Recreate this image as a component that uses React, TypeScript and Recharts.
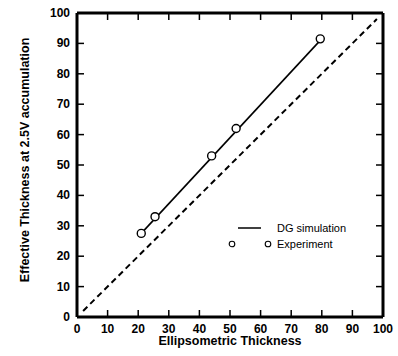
import React from "react";
import { ScatterChart, Scatter, XAxis, YAxis } from "recharts";

const expX = [21, 25.5, 44, 52, 79.5];
const expY = [27.5, 33, 53, 62, 91.5];
const simX = [21, 79.5];
const simY = [27.5, 91];
const refX = [2, 98];
const refY = [2, 98];
const ticks = [0, 10, 20, 30, 40, 50, 60, 70, 80, 90, 100];

const simLabel = "DG simulation";
const expLabel = "Experiment";

const zip = (xs: number[], ys: number[]) => xs.map((x, i) => ({ x, y: ys[i] }));
const expData = zip(expX, expY);
const simData = zip(simX, simY);
const refData = zip(refX, refY);

const FONT = "'Liberation Sans', Arial, sans-serif";
const TICK = 7;

function BottomTick({ x, y, payload }: any) {
    return (
        <g>
            <line x1={x} y1={y} x2={x} y2={y - TICK} stroke="#000" strokeWidth={1.5} />
            <text x={x} y={y + 15.5} textAnchor="middle" fontFamily={FONT} fontWeight="bold" fontSize={12} fill="#000">
                {payload.value}
            </text>
        </g>
    );
}

function LeftTick({ x, y, payload }: any) {
    return (
        <g>
            <line x1={x} y1={y} x2={x + TICK} y2={y} stroke="#000" strokeWidth={1.5} />
            <text x={x - 7} y={y + 4} textAnchor="end" fontFamily={FONT} fontWeight="bold" fontSize={12} fill="#000">
                {payload.value}
            </text>
        </g>
    );
}

function TopTick({ x, y }: any) {
    return <line x1={x} y1={y} x2={x} y2={y + TICK} stroke="#000" strokeWidth={1.5} />;
}

function RightTick({ x, y }: any) {
    return <line x1={x} y1={y} x2={x - TICK} y2={y} stroke="#000" strokeWidth={1.5} />;
}

function NoDot() {
    return <g />;
}

function ExpDot({ cx, cy }: any) {
    return <circle cx={cx} cy={cy} r={4} fill="#fff" stroke="#000" strokeWidth={1.4} />;
}

function ChartLegend() {
    return (
        <svg width={130} height={34} style={{ display: "block" }}>
            <line x1={10} y1={8} x2={33} y2={8} stroke="#000" strokeWidth={1.5} />
            <text x={49} y={12} fontFamily={FONT} fontSize={11} fill="#000">
                {simLabel}
            </text>
            <circle cx={4} cy={24} r={2.8} fill="none" stroke="#000" strokeWidth={1.1} />
            <circle cx={40} cy={24} r={2.8} fill="none" stroke="#000" strokeWidth={1.1} />
            <text x={49} y={28} fontFamily={FONT} fontSize={11} fill="#000">
                {expLabel}
            </text>
        </svg>
    );
}

export default function App() {
    return (
        <div style={{ position: "absolute", left: 0, top: 0, width: 398, height: 356, background: "#fff" }}>
            <ScatterChart width={398} height={356} margin={{ top: 12, right: 14, bottom: 0, left: 0 }}>
                <XAxis
                    xAxisId="b"
                    type="number"
                    dataKey="x"
                    domain={[0, 100]}
                    ticks={ticks}
                    interval={0}
                    height={39}
                    tickSize={0}
                    tickMargin={0}
                    tickLine={false}
                    tick={<BottomTick />}
                    axisLine={{ stroke: "#000", strokeWidth: 3 }}
                    label={{
                        value: "Ellipsometric Thickness",
                        position: "insideBottom",
                        offset: 11,
                        fontFamily: FONT,
                        fontWeight: "bold",
                        fontSize: 12.5,
                        fill: "#000",
                    }}
                />
                <XAxis
                    xAxisId="t"
                    orientation="top"
                    type="number"
                    dataKey="x"
                    domain={[0, 100]}
                    ticks={ticks}
                    interval={0}
                    height={1}
                    tickSize={0}
                    tickMargin={0}
                    tickLine={false}
                    tick={<TopTick />}
                    axisLine={{ stroke: "#000", strokeWidth: 3 }}
                />
                <YAxis
                    yAxisId="l"
                    type="number"
                    dataKey="y"
                    domain={[0, 100]}
                    ticks={ticks}
                    interval={0}
                    width={77}
                    tickSize={0}
                    tickMargin={0}
                    tickLine={false}
                    tick={<LeftTick />}
                    axisLine={{ stroke: "#000", strokeWidth: 3 }}
                    label={(props: any) => {
                        const vb = props.viewBox;
                        const cx = vb.x + 25;
                        const cy = vb.y + vb.height / 2 - 5;
                        return (
                            <text
                                x={cx}
                                y={cy}
                                transform={`rotate(-90 ${cx} ${cy})`}
                                textAnchor="middle"
                                dominantBaseline="central"
                                fontFamily={FONT}
                                fontSize={12.5}
                                fontWeight="bold"
                                fill="#000"
                            >
                                Effective Thickness at 2.5V accumulation
                            </text>
                        );
                    }}
                />
                <YAxis
                    yAxisId="r"
                    orientation="right"
                    type="number"
                    dataKey="y"
                    domain={[0, 100]}
                    ticks={ticks}
                    interval={0}
                    width={1}
                    tickSize={0}
                    tickMargin={0}
                    tickLine={false}
                    tick={<RightTick />}
                    axisLine={{ stroke: "#000", strokeWidth: 3 }}
                />
                <Scatter
                    name="reference"
                    data={refData}
                    xAxisId="t"
                    yAxisId="r"
                    line={{ stroke: "#000", strokeWidth: 2, strokeDasharray: "6 4" }}
                    lineType="joint"
                    shape={<NoDot />}
                    isAnimationActive={false}
                    legendType="none"
                />
                <Scatter
                    name={simLabel}
                    data={simData}
                    xAxisId="b"
                    yAxisId="l"
                    line={{ stroke: "#000", strokeWidth: 1.6 }}
                    lineType="joint"
                    shape={<NoDot />}
                    isAnimationActive={false}
                />
                <Scatter
                    name={expLabel}
                    data={expData}
                    xAxisId="b"
                    yAxisId="l"
                    shape={<ExpDot />}
                    isAnimationActive={false}
                />
            </ScatterChart>
            <div style={{ position: "absolute", left: 228, top: 220 }}>
                <ChartLegend />
            </div>
        </div>
    );
}
